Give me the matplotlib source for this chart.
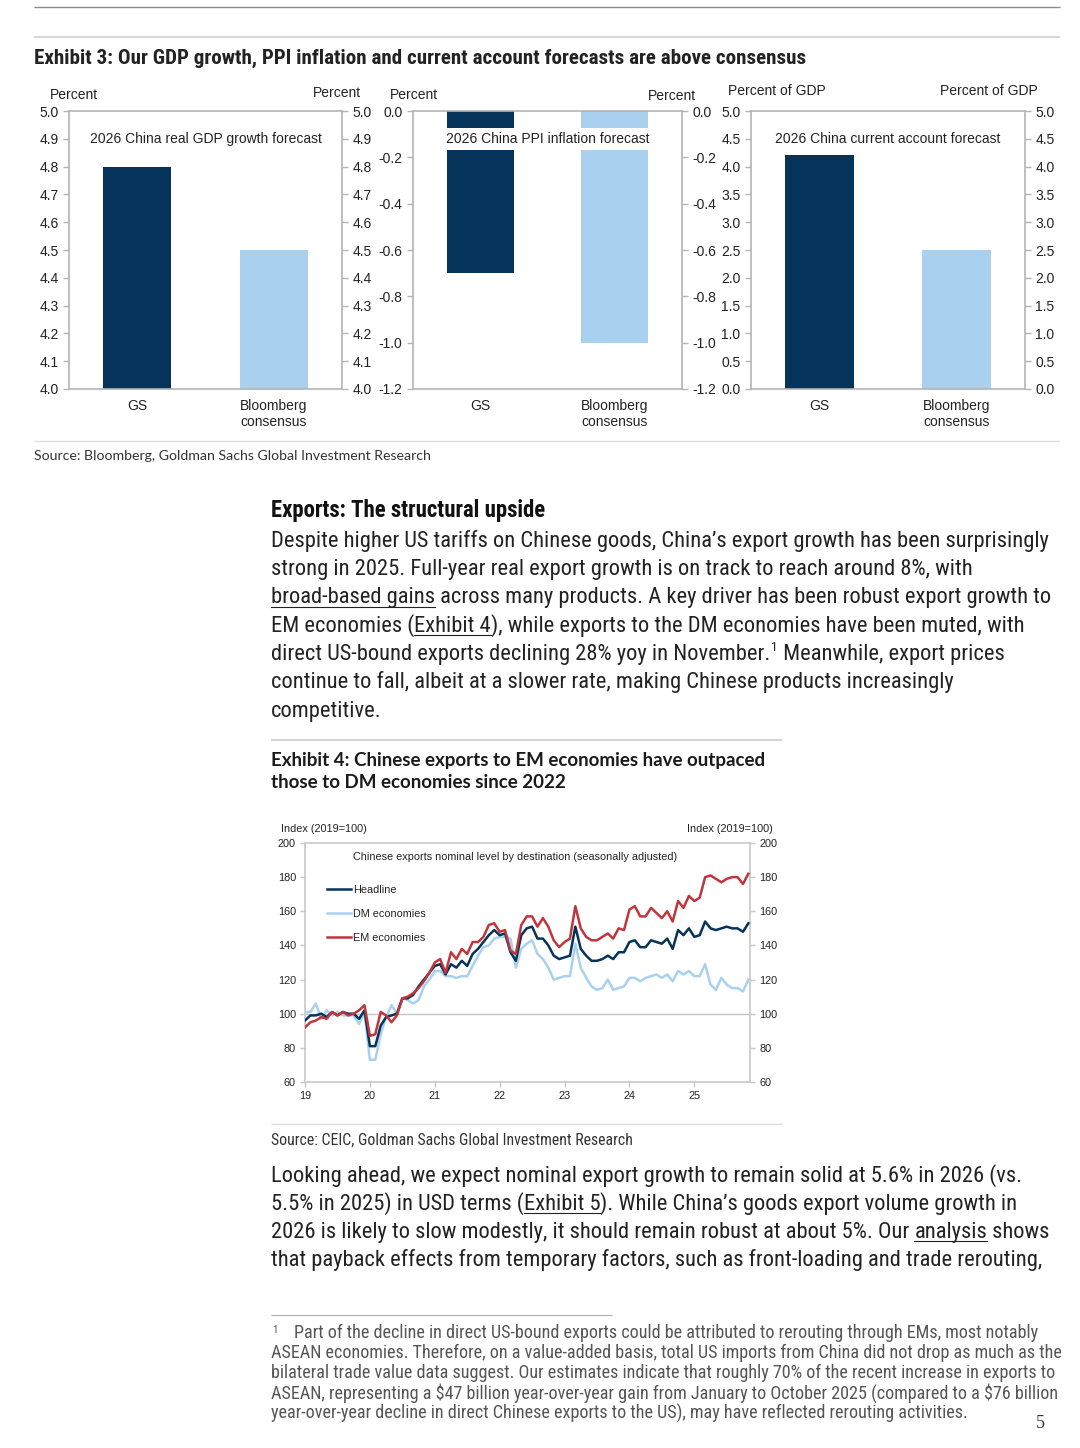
import numpy as np
import matplotlib
matplotlib.use('Agg')
import matplotlib.pyplot as plt
from matplotlib import font_manager

W, H = 1080, 1448

# ---- Exhibit 3 data ----
bar_cats = ['GS', 'Bloomberg\nconsensus']
gdp_fc = [4.8, 4.5]
ppi_fc = [-0.7, -1.0]
ca_fc = [4.2, 2.5]

# ---- Exhibit 4 data: index 2019=100, monthly Jan-2019 .. Nov-2025 ----
headline = [96, 99, 99, 100, 98, 101, 99, 101, 100, 100, 97, 102,
            81, 81, 93, 98, 99, 100, 109, 109, 111, 116, 120, 124,
            128, 129, 123, 129, 127, 131, 128, 135, 138, 142, 146, 149,
            146, 147, 136, 131, 146, 150, 151, 144, 144, 140, 134, 132,
            133, 134, 151, 138, 134, 131, 131, 132, 134, 132, 136, 136,
            142, 143, 139, 139, 143, 142, 141, 144, 138, 149, 146, 150,
            145, 146, 154, 150, 149, 150, 151, 150, 150, 148, 153]
dm = [101, 101, 106, 97, 102, 99, 101, 99, 99, 99, 94, 101,
      73, 73, 88, 98, 105, 100, 109, 108, 106, 108, 116, 120,
      125, 125, 122, 122, 121, 122, 122, 128, 134, 139, 140, 144,
      145, 145, 144, 127, 138, 141, 143, 135, 132, 127, 120, 121,
      122, 122, 141, 127, 121, 116, 114, 115, 120, 114, 115, 116,
      121, 121, 119, 121, 122, 123, 121, 123, 119, 125, 123, 125,
      122, 122, 129, 117, 114, 121, 117, 115, 115, 113, 120]
em = [92, 95, 96, 98, 97, 101, 99, 101, 99, 100, 102, 105,
      87, 88, 101, 99, 95, 99, 109, 110, 112, 115, 119, 124,
      130, 132, 124, 136, 132, 138, 135, 142, 142, 145, 152, 153,
      148, 149, 137, 135, 152, 157, 157, 151, 156, 151, 143, 139,
      142, 144, 163, 150, 145, 143, 143, 145, 147, 144, 150, 149,
      161, 163, 157, 157, 162, 159, 156, 160, 154, 166, 162, 169,
      166, 168, 180, 181, 179, 177, 179, 180, 180, 176, 182]
year_labels = ['19', '20', '21', '22', '23', '24', '25']

NAVY = '#05335a'
LIGHT = '#a9d1ef'
RED = '#c0363c'
TXT = '#222222'
GRID = '#b4b4b4'

matplotlib.rcParams['axes.unicode_minus'] = False

avail = set(f.name for f in font_manager.fontManager.ttflist)


def pick(names):
    for n in names:
        if n in avail:
            return n
    return 'DejaVu Sans'


ARIAL = pick(['Liberation Sans', 'Arial', 'DejaVu Sans'])
NARROW = pick(['Liberation Sans Narrow', 'Roboto Condensed', 'Roboto'])
HUMAN = pick(['Lato', 'Open Sans', 'Noto Sans'])
SERIF = pick(['Liberation Serif', 'DejaVu Serif'])

fig = plt.figure(figsize=(W / 100, H / 100), dpi=100)
page = fig.add_axes([0, 0, 1, 1])
page.set_xlim(0, W)
page.set_ylim(H, 0)
page.axis('off')
renderer = fig.canvas.get_renderer()


def box(x0, y0, x1, y1):
    return [x0 / W, 1 - y1 / H, (x1 - x0) / W, (y1 - y0) / H]


def width(s, **kw):
    t = page.text(0, 0, s, parse_math=False, **kw)
    w = t.get_window_extent(renderer).width
    t.remove()
    return w


def fit(s, target, **kw):
    return 10 * target / width(s, fontsize=10, **kw)


def put_line(x, y, segs, size, family, color=TXT, weight='normal'):
    kw = dict(family=family, weight=weight)
    px = size * 100 / 72
    for s, kind in segs:
        if kind == 'sup':
            page.text(x + 1, y - 0.38 * px, s, fontsize=size * 0.6, color=color,
                      va='baseline', parse_math=False, **kw)
            x += width(s, fontsize=size * 0.6, **kw) + 1
            continue
        page.text(x, y, s, fontsize=size, color=color, va='baseline',
                  parse_math=False, **kw)
        if kind == 'u':
            page.plot([x, x + width(s, fontsize=size, **kw)], [y + 3.5, y + 3.5],
                      color=color, lw=0.8)
        x += width('|' + s + '|', fontsize=size, **kw) - width('||', fontsize=size, **kw)


def rule(x0, x1, y, color, lw=1.0):
    page.plot([x0, x1], [y, y], color=color, lw=lw, solid_capstyle='butt')


# ---- page rules ----
rule(34, 1060, 7, '#8c8c8c', 1.0)
rule(34, 1060, 37, '#cfcfcf', 1.2)
rule(34, 1060, 441, '#dddddd', 1.0)
rule(271, 782, 740, '#cccccc', 1.2)
rule(271, 782, 1124, '#dddddd', 1.0)
rule(271, 612, 1315, '#b0b0b0', 0.8)

# ---- Exhibit 3 title ----
t3 = 'Exhibit 3: Our GDP growth, PPI inflation and current account forecasts are above consensus'
s3 = fit(t3, 771, family=NARROW, weight='bold')
put_line(34, 64, [(t3, 'n')], s3, NARROW, weight='bold')


def fmt(v):
    if abs(v) < 1e-9:
        v = 0.0
    return '%.1f' % v


def bar_panel(x0, x1, vals, lo, hi, step, title):
    ax = fig.add_axes(box(x0, 111, x1, 389))
    ax.bar([0, 1], vals, width=0.5, color=[NAVY, LIGHT], zorder=2)
    ax.set_xlim(-0.5, 1.5)
    ax.set_ylim(lo, hi)
    ticks = np.arange(lo, hi + step / 2, step)
    ax.set_yticks(ticks)
    ax.set_yticklabels([fmt(v) for v in ticks])
    ax.set_xticks([0, 1])
    ax.set_xticklabels(bar_cats, linespacing=1.2)
    for sp in ax.spines.values():
        sp.set_color(GRID)
        sp.set_linewidth(1.2)
    ax.tick_params(axis='y', left=True, right=True, labelleft=True, labelright=True,
                   length=4, width=1, color=GRID, pad=3.5, labelsize=10,
                   labelcolor=TXT)
    ax.tick_params(axis='x', length=0, pad=7, labelsize=10, labelcolor=TXT)
    for lab in ax.get_xticklabels() + ax.yaxis.get_ticklabels(which='both'):
        lab.set_family(ARIAL)
    for tk in ax.yaxis.get_major_ticks():
        tk.label2.set_family(ARIAL)
    ax.text(0.5, 0.899, title, transform=ax.transAxes, ha='center', va='center',
            fontsize=10, family=ARIAL, color=TXT, zorder=5,
            bbox=dict(facecolor='white', edgecolor='none', pad=2.8))
    return ax


bar_panel(69, 342, gdp_fc, 4.0, 5.0, 0.1, '2026 China real GDP growth forecast')
bar_panel(413, 682, ppi_fc, -1.2, 0.0, 0.2, '2026 China PPI inflation forecast')
bar_panel(751, 1025, ca_fc, 0.0, 5.0, 0.5, '2026 China current account forecast')

for x, y, s, ha in [(50, 95, 'Percent', 'left'), (361, 93, 'Percent', 'right'),
                    (390, 95, 'Percent', 'left'), (696, 96, 'Percent', 'right'),
                    (728, 91, 'Percent of GDP', 'left'), (1038, 91, 'Percent of GDP', 'right')]:
    page.text(x, y, s, ha=ha, va='center', fontsize=10, family=ARIAL, color=TXT)

src3 = 'Source: Bloomberg, Goldman Sachs Global Investment Research'
put_line(34, 460.5, [(src3, 'n')], fit(src3, 399, family=HUMAN), HUMAN, color='#333333')

# ---- body paragraph ----
head = 'Exports: The structural upside'
put_line(271, 516.5, [(head, 'n')], fit(head, 275, family=NARROW, weight='bold'),
         NARROW, color='#111111', weight='bold')

l1 = 'Despite higher US tariffs on Chinese goods, China\u2019s export growth has been surprisingly'
BS = fit(l1, 772, family=NARROW)
body = [
    [(l1, 'n')],
    [('strong in 2025. Full-year real export growth is on track to reach around 8%, with', 'n')],
    [('broad-based gains', 'u'), (' across many products. A key driver has been robust export growth to', 'n')],
    [('EM economies (', 'n'), ('Exhibit 4', 'u'), ('), while exports to the DM economies have been muted, with', 'n')],
    [('direct US-bound exports declining 28% yoy in November.', 'n'), ('1', 'sup'), (' Meanwhile, export prices', 'n')],
    [('continue to fall, albeit at a slower rate, making Chinese products increasingly', 'n')],
    [('competitive.', 'n')],
]
for k, segs in enumerate(body):
    put_line(271, 546.7 + 28.3 * k, segs, BS, NARROW)

# ---- Exhibit 4 title ----
e4a = 'Exhibit 4: Chinese exports to EM economies have outpaced'
s4 = fit(e4a, 497, family=HUMAN, weight='bold')
put_line(271, 766, [(e4a, 'n')], s4, HUMAN, color='#1a1a1a', weight='bold')
put_line(271, 788, [('those to DM economies since 2022', 'n')], s4, HUMAN, color='#1a1a1a', weight='bold')

# ---- Exhibit 4 chart ----
ax = fig.add_axes(box(305, 843, 750, 1082))
x = np.arange(len(headline))
ax.axhline(100, color='#c4c4c4', lw=1.0, zorder=1)
ax.plot(x, dm, color=LIGHT, lw=1.8, label='DM economies', zorder=2)
ax.plot(x, headline, color=NAVY, lw=1.8, label='Headline', zorder=3)
ax.plot(x, em, color=RED, lw=1.8, label='EM economies', zorder=4)
ax.set_xlim(0, 82.3)
ax.set_ylim(60, 200)
ax.set_yticks(np.arange(60, 201, 20))
ax.set_xticks(np.arange(0, 73, 12))
ax.set_xticklabels(year_labels)
for sp in ax.spines.values():
    sp.set_color('#c8c8c8')
    sp.set_linewidth(1.2)
ax.tick_params(axis='y', left=True, right=True, labelleft=True, labelright=True,
               length=3.5, width=1, color='#c8c8c8', pad=3, labelsize=7.8, labelcolor=TXT)
ax.tick_params(axis='x', length=3.5, width=1, color='#c8c8c8', pad=3, labelsize=7.8,
               labelcolor=TXT)
for lab in ax.get_xticklabels() + ax.yaxis.get_ticklabels(which='both'):
    lab.set_family(ARIAL)
for tk in ax.yaxis.get_major_ticks():
    tk.label2.set_family(ARIAL)
ax.text(0.471, 0.942, 'Chinese exports nominal level by destination (seasonally adjusted)',
        transform=ax.transAxes, ha='center', va='center', fontsize=7.8, family=ARIAL, color=TXT)
h = ax.get_legend_handles_labels()
order = [1, 0, 2]
leg = ax.legend([h[0][i] for i in order], [h[1][i] for i in order], loc='upper left',
                bbox_to_anchor=(0.05, 0.825), frameon=False, handlelength=2.2,
                handletextpad=0.2, labelspacing=1.3, borderpad=0, borderaxespad=0,
                prop=dict(family=ARIAL, size=7.8))
for t in leg.get_texts():
    t.set_color(TXT)

page.text(281, 829, 'Index (2019=100)', ha='left', va='center', fontsize=7.8, family=ARIAL, color=TXT)
page.text(773, 829, 'Index (2019=100)', ha='right', va='center', fontsize=7.8, family=ARIAL, color=TXT)

src4 = 'Source: CEIC, Goldman Sachs Global Investment Research'
put_line(271, 1144.5, [(src4, 'n')], fit(src4, 358, family=NARROW), NARROW, color='#333333')

# ---- second paragraph ----
look = [
    [('Looking ahead, we expect nominal export growth to remain solid at 5.6% in 2026 (vs.', 'n')],
    [('5.5% in 2025) in USD terms (', 'n'), ('Exhibit 5', 'u'), ('). While China\u2019s goods export volume growth in', 'n')],
    [('2026 is likely to slow modestly, it should remain robust at about 5%. Our ', 'n'), ('analysis', 'u'), (' shows', 'n')],
    [('that payback effects from temporary factors, such as front-loading and trade rerouting,', 'n')],
]
for k, segs in enumerate(look):
    put_line(271, 1181.5 + 28.2 * k, segs, BS, NARROW)

# ---- footnote ----
f1 = 'ASEAN, representing a $47 billion year-over-year gain from January to October 2025 (compared to a $76 billion'
FS = fit(f1, 785, family=NARROW)
foot = [
    'Part of the decline in direct US-bound exports could be attributed to rerouting through EMs, most notably',
    'ASEAN economies. Therefore, on a value-added basis, total US imports from China did not drop as much as the',
    'bilateral trade value data suggest. Our estimates indicate that roughly 70% of the recent increase in exports to',
    f1,
    'year-over-year decline in direct Chinese exports to the US), may have reflected rerouting activities.',
]
page.text(272, 1333, '1', fontsize=FS * 0.6, family=NARROW, color='#555555', va='baseline')
for k, s in enumerate(foot):
    put_line(294 if k == 0 else 271, 1338 + 20.1 * k, [(s, 'n')], FS, NARROW, color='#555555')

page.text(1040, 1428, '5', ha='center', va='baseline', fontsize=13, family=SERIF, color='#333333')

fig.savefig('out.png', dpi=100)
